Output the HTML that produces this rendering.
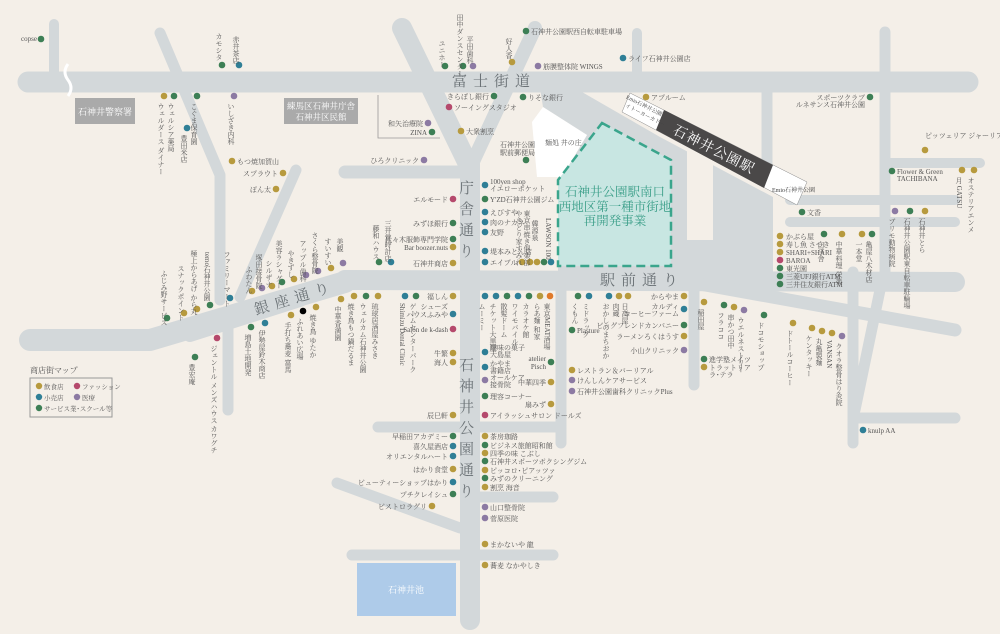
<!DOCTYPE html>
<html><head><meta charset="utf-8">
<style>
html,body{margin:0;padding:0;background:#f4efe8;}
svg{display:block;font-family:"Liberation Serif","Noto Serif CJK SC","Noto Sans CJK JP",serif;}
.l{font-size:7px;fill:#555;}
.v{font-size:7px;fill:#555;writing-mode:vertical-rl;}
.rd{font-size:15px;fill:#6b7276;letter-spacing:6px;}
.rv{font-size:15px;fill:#6b7276;writing-mode:vertical-rl;letter-spacing:6px;}
</style></head><body>
<svg width="1000" height="634" viewBox="0 0 1000 634" xmlns="http://www.w3.org/2000/svg">
<rect width="1000" height="634" fill="#f4efe8"/>
<polygon points="540,88 575,88 660,137 773,197 773,290 558,290 558,180 587,135 543,107" fill="#d3d8da"/>
<g stroke="#d3d8da" stroke-linecap="round" fill="none">
<line x1="28" y1="82" x2="968" y2="82" stroke-width="21"/>
<line x1="54" y1="24" x2="54" y2="82" stroke-width="10"/>
<polyline points="160,33 220,175 220,300" stroke-width="11" stroke-linejoin="round"/>
<line x1="296" y1="170" x2="240" y2="297" stroke-width="11"/>
<line x1="402" y1="28" x2="470" y2="168" stroke-width="20"/>
<line x1="535" y1="28" x2="470" y2="168" stroke-width="14"/>
<line x1="345" y1="172" x2="470" y2="172" stroke-width="13"/>
<line x1="470" y1="160" x2="470" y2="620" stroke-width="20"/>
<line x1="345" y1="280" x2="955" y2="282" stroke-width="20"/>
<line x1="885" y1="32" x2="885" y2="285" stroke-width="11"/>
<line x1="767" y1="92" x2="767" y2="172" stroke-width="11"/>
<line x1="637" y1="33" x2="637" y2="82" stroke-width="10"/>
<line x1="887" y1="163" x2="980" y2="163" stroke-width="10"/>
<line x1="790" y1="200" x2="955" y2="200" stroke-width="10"/>
<line x1="790" y1="222" x2="955" y2="222" stroke-width="10"/>
<polyline points="30,340 150,340 345,282" stroke-width="22" stroke-linejoin="round"/>
<line x1="190" y1="335" x2="300" y2="300" stroke-width="14"/>
<line x1="228" y1="320" x2="228" y2="410" stroke-width="11"/>
<line x1="561" y1="280" x2="561" y2="443" stroke-width="11"/>
<line x1="694" y1="280" x2="694" y2="385" stroke-width="11"/>
<line x1="650" y1="275" x2="955" y2="330" stroke-width="13"/>
<line x1="853" y1="272" x2="853" y2="443" stroke-width="11"/>
<line x1="880" y1="290" x2="855" y2="410" stroke-width="11"/>
<line x1="853" y1="418" x2="955" y2="418" stroke-width="11"/>
<line x1="378" y1="427" x2="561" y2="427" stroke-width="11"/>
<line x1="470" y1="497" x2="553" y2="497" stroke-width="11"/>
<line x1="352" y1="555" x2="553" y2="555" stroke-width="11"/>
<line x1="337" y1="483" x2="460" y2="528" stroke-width="11"/>
</g>
<rect x="687" y="150" width="26" height="90" fill="#f4efe8"/>
<path d="M68,64 q-6,8 0,16 q6,8 0,16" stroke="#fff" stroke-width="3" fill="none"/>
<rect x="357" y="563" width="99" height="53" fill="#aecbe9"/>
<text x="406" y="593" font-size="9" fill="#fff" text-anchor="middle">石神井池</text>
<rect x="75" y="98" width="60" height="26" fill="#aaa"/>
<text x="105" y="115" font-size="9" fill="#fff" text-anchor="middle">石神井警察署</text>
<rect x="284" y="98" width="74" height="26" fill="#aaa"/>
<text x="321" y="109" font-size="8.5" fill="#fff" text-anchor="middle">練馬区石神井庁舎</text>
<text x="321" y="120" font-size="8.5" fill="#fff" text-anchor="middle">石神井区民館</text>
<polyline points="378,95 378,138 440,138" stroke="#999" stroke-width="0.8" fill="none"/>
<polygon points="543,107 587,135 562,177 537,177 532,122" fill="#fff"/>
<text x="545" y="145" class="l">麺処 井の庄</text>
<polygon points="602,123 671,160 671,266 558,266 558,180" fill="#c8e6e2" stroke="#3aa58c" stroke-width="2.5" stroke-dasharray="9,5"/>
<g font-size="12.5" fill="#3a9e88" text-anchor="middle">
<text x="615" y="196">石神井公園駅南口</text>
<text x="615" y="211">西地区第一種市街地</text>
<text x="615" y="225">再開発事業</text></g>
<polygon points="630,93 807,182 797,205 622,112" fill="#fff" stroke="#888" stroke-width="0.5"/>
<polygon points="664,110 773,165 764,188 656,130" fill="#4a4848"/>
<text x="714" y="154" font-size="14" fill="#fff" text-anchor="middle" transform="rotate(27 714 149)" letter-spacing="1">石神井公園駅</text>
<text x="622" y="106" font-size="5.5" fill="#444" transform="rotate(27 640 110)">Emio石神井公園</text>
<text x="625" y="114" font-size="5.5" fill="#444" transform="rotate(27 640 110)">イトーヨーカドー</text>
<text x="772" y="192" font-size="6" fill="#444">Emio石神井公園</text>
<text x="452" y="86" class="rd">富士街道</text>
<text x="600" y="285" class="rd">駅前通り</text>
<text x="465" y="180" class="rv">庁舎通り</text>
<text x="465" y="357" class="rv">石神井公園通り</text>
<text x="256" y="315" class="rd" transform="rotate(-17 256 315)">銀座通り</text>
<text x="30" y="373" font-size="8" fill="#555">商店街マップ</text>
<rect x="30" y="378" width="82" height="39" fill="none" stroke="#999" stroke-width="1"/>
<g font-size="6.5" fill="#555">
<circle cx="39" cy="386" r="3.2" fill="#b79a3e"/><text x="44" y="389">飲食店</text>
<circle cx="77" cy="386" r="3.2" fill="#b5496c"/><text x="82" y="389">ファッション</text>
<circle cx="39" cy="397" r="3.2" fill="#2f7f96"/><text x="44" y="400">小売店</text>
<circle cx="77" cy="397" r="3.2" fill="#8c7aa3"/><text x="82" y="400">医療</text>
<circle cx="39" cy="408" r="3.2" fill="#3d7f55"/><text x="44" y="411">サービス業･スクール等</text>
</g>
<g>
<circle cx="41" cy="39" r="3.3" fill="#3d7f55"/><text x="21" y="41" class="l">copse</text>
<circle cx="222" cy="65" r="3.3" fill="#3d7f55"/><text x="219" y="33" class="v">カモシタ</text>
<circle cx="239" cy="65" r="3.3" fill="#2f7f96"/><text x="236" y="36" class="v">赤井茶店</text>
<circle cx="164" cy="96" r="3.3" fill="#b79a3e"/><text x="161" y="103" class="v">ウェルダース ダイナー</text>
<circle cx="174" cy="96" r="3.3" fill="#3d7f55"/><text x="171" y="103" class="v">ウェルシア薬局</text>
<circle cx="197" cy="96" r="3.3" fill="#3d7f55"/><text x="194" y="103" class="v">こぐま保育園</text>
<circle cx="187" cy="128" r="3.3" fill="#2f7f96"/><text x="184" y="135" class="v">豊田米店</text>
<circle cx="234" cy="96" r="3.3" fill="#8c7aa3"/><text x="231" y="103" class="v">いしざき内科</text>
<circle cx="232" cy="161" r="3.3" fill="#b79a3e"/><text x="237" y="164" class="l">もつ焼加賀山</text>
<circle cx="283" cy="173" r="3.3" fill="#b79a3e"/><text x="278" y="176" class="l" text-anchor="end">スプラウト</text>
<circle cx="276" cy="189" r="3.3" fill="#b79a3e"/><text x="271" y="192" class="l" text-anchor="end">ぽん太</text>
<circle cx="445" cy="66" r="3.3" fill="#3d7f55"/><text x="442" y="40" class="v">ユニホー</text>
<circle cx="463" cy="66" r="3.3" fill="#3d7f55"/><text x="460" y="14" class="v">田中ダンスセンター</text>
<circle cx="473" cy="66" r="3.3" fill="#8c7aa3"/><text x="470" y="36" class="v">平田歯科</text>
<circle cx="512" cy="62" r="3.3" fill="#b79a3e"/><text x="509" y="38" class="v">好人香</text>
<circle cx="526" cy="31" r="3.3" fill="#3d7f55"/><text x="531" y="34" class="l">石神井公園駅西自転車駐車場</text>
<circle cx="538" cy="66" r="3.3" fill="#8c7aa3"/><text x="543" y="69" class="l">筋膜整体院 WINGS</text>
<circle cx="623" cy="58" r="3.3" fill="#2f7f96"/><text x="628" y="61" class="l">ライフ石神井公園店</text>
<circle cx="494" cy="96" r="3.3" fill="#3d7f55"/><text x="489" y="99" class="l" text-anchor="end">きらぼし銀行</text>
<circle cx="449" cy="107" r="3.3" fill="#b5496c"/><text x="454" y="110" class="l">ソーイングスタジオ</text>
<circle cx="523" cy="97" r="3.3" fill="#3d7f55"/><text x="528" y="100" class="l">りそな銀行</text>
<circle cx="646" cy="97" r="3.3" fill="#b79a3e"/><text x="651" y="100" class="l">アプルーム</text>
<circle cx="428" cy="123" r="3.3" fill="#8c7aa3"/><text x="423" y="126" class="l" text-anchor="end">和矢治療院</text>
<circle cx="432" cy="132" r="3.3" fill="#3d7f55"/><text x="427" y="135" class="l" text-anchor="end">ZINA</text>
<circle cx="461" cy="131" r="3.3" fill="#b79a3e"/><text x="466" y="134" class="l">大衆割烹</text>
<circle cx="424" cy="160" r="3.3" fill="#8c7aa3"/><text x="419" y="163" class="l" text-anchor="end">ひろクリニック</text>
<circle cx="526" cy="160" r="3.3" fill="#3d7f55"/><text x="500" y="147" class="l">石神井公園</text><text x="500" y="155" class="l">駅前郵便局</text>
<circle cx="870" cy="97" r="3.3" fill="#3d7f55"/><text x="865" y="100" class="l" text-anchor="end">スポーツクラブ</text><text x="865" y="107" class="l" text-anchor="end">ルネサンス石神井公園</text>
<circle cx="925" cy="150" r="3.3" fill="#b79a3e"/><text x="925" y="138" class="l">ピッツェリア ジャーリア</text>
<circle cx="892" cy="171" r="3.3" fill="#3d7f55"/><text x="897" y="174" class="l">Flower &amp; Green</text><text x="897" y="181" class="l">TACHIBANA</text>
<circle cx="962" cy="170" r="3.3" fill="#b79a3e"/><text x="959" y="177" class="v">月 GATSU</text>
<circle cx="974" cy="170" r="3.3" fill="#b79a3e"/><text x="971" y="177" class="v">オステリアエンメ</text>
<circle cx="802" cy="212" r="3.3" fill="#3d7f55"/><text x="807" y="215" class="l">文香</text>
<circle cx="780" cy="236" r="3.3" fill="#b79a3e"/><text x="786" y="239" class="l">かぶら屋</text>
<circle cx="780" cy="244" r="3.3" fill="#b79a3e"/><text x="786" y="247" class="l">寿し魚 さつき</text>
<circle cx="780" cy="252" r="3.3" fill="#b79a3e"/><text x="786" y="255" class="l">SHARI+SHARI</text>
<circle cx="780" cy="260" r="3.3" fill="#b5496c"/><text x="786" y="263" class="l">BAROA</text>
<circle cx="780" cy="268" r="3.3" fill="#3d7f55"/><text x="786" y="271" class="l">東光園</text>
<circle cx="780" cy="276" r="3.3" fill="#3d7f55"/><text x="786" y="279" class="l">三菱UFJ銀行ATM</text>
<circle cx="780" cy="284" r="3.3" fill="#3d7f55"/><text x="786" y="287" class="l">三井住友銀行ATM</text>
<circle cx="824" cy="234" r="3.3" fill="#3d7f55"/><text x="821" y="241" class="v">白洋舎</text>
<circle cx="842" cy="234" r="3.3" fill="#b79a3e"/><text x="839" y="241" class="v">中華料理 栄楽</text>
<circle cx="862" cy="234" r="3.3" fill="#b79a3e"/><text x="859" y="241" class="v">一本堂</text>
<circle cx="872" cy="234" r="3.3" fill="#3d7f55"/><text x="869" y="241" class="v">亀屋八木材店</text>
<circle cx="895" cy="211" r="3.3" fill="#8c7aa3"/><text x="892" y="218" class="v">ブリモ動物病院</text>
<circle cx="910" cy="211" r="3.3" fill="#3d7f55"/><text x="907" y="218" class="v">石神井公園駅東自転車駐輪場</text>
<circle cx="925" cy="211" r="3.3" fill="#b79a3e"/><text x="922" y="218" class="v">石神井とら</text>
<circle cx="485" cy="185" r="3.3" fill="#2f7f96"/><text x="490" y="184" class="l">100yen shop</text><text x="490" y="191" class="l">イエローポケット</text>
<circle cx="485" cy="199" r="3.3" fill="#3d7f55"/><text x="490" y="202" class="l">Y'ZD石神井公園ジム</text>
<circle cx="485" cy="212" r="3.3" fill="#2f7f96"/><text x="490" y="215" class="l">えびすや</text>
<circle cx="485" cy="222" r="3.3" fill="#2f7f96"/><text x="490" y="225" class="l">肉のナカネ</text>
<circle cx="485" cy="232" r="3.3" fill="#2f7f96"/><text x="490" y="235" class="l">友野</text>
<circle cx="485" cy="251" r="3.3" fill="#2f7f96"/><text x="490" y="254" class="l">堤本みとん店</text>
<circle cx="485" cy="262" r="3.3" fill="#2f7f96"/><text x="490" y="265" class="l">エイブル</text>
<circle cx="522" cy="262" r="3.3" fill="#b79a3e"/><circle cx="530" cy="262" r="3.3" fill="#b79a3e"/><circle cx="537" cy="262" r="3.3" fill="#b79a3e"/><circle cx="544" cy="262" r="3.3" fill="#3d7f55"/><circle cx="551" cy="262" r="3.3" fill="#2f7f96"/>
<text x="519" y="210" class="v">やきとり家すみれ</text><text x="527" y="210" class="v">東京串焼き倶楽部</text><text x="535" y="220" class="v">韓源泉</text><text x="548" y="218" class="v">LAWSON 100</text>
<circle cx="453" cy="199" r="3.3" fill="#b5496c"/><text x="448" y="202" class="l" text-anchor="end">エルモード</text>
<circle cx="453" cy="223" r="3.3" fill="#3d7f55"/><text x="448" y="226" class="l" text-anchor="end">みずほ銀行</text>
<circle cx="453" cy="239" r="3.3" fill="#3d7f55"/><text x="448" y="242" class="l" text-anchor="end">代々木服飾専門学院</text>
<circle cx="453" cy="247" r="3.3" fill="#b79a3e"/><text x="448" y="250" class="l" text-anchor="end">Bar boozer.nuts</text>
<circle cx="453" cy="263" r="3.3" fill="#b79a3e"/><text x="448" y="266" class="l" text-anchor="end">石神井商店</text>
<circle cx="379" cy="262" r="3.3" fill="#3d7f55"/><text x="376" y="225" class="v">藤和ハウス</text>
<circle cx="391" cy="262" r="3.3" fill="#2f7f96"/><text x="388" y="220" class="v">三井堂時計店</text>
<circle cx="343" cy="263" r="3.3" fill="#8c7aa3"/><text x="340" y="238" class="v">美観</text>
<circle cx="331" cy="268" r="3.3" fill="#b79a3e"/><text x="328" y="238" class="v">すいすい</text>
<circle cx="318" cy="271" r="3.3" fill="#8c7aa3"/><text x="315" y="232" class="v">さくら整骨院</text>
<circle cx="306" cy="275" r="3.3" fill="#8c7aa3"/><text x="303" y="240" class="v">アップル歯科</text>
<circle cx="294" cy="279" r="3.3" fill="#b79a3e"/><text x="291" y="250" class="v">やきずし</text>
<circle cx="282" cy="282" r="3.3" fill="#3d7f55"/><text x="279" y="240" class="v">美容ラシャグー</text>
<circle cx="272" cy="286" r="3.3" fill="#b79a3e"/><text x="269" y="260" class="v">シルザナ</text>
<circle cx="262" cy="288" r="3.3" fill="#8c7aa3"/><text x="259" y="254" class="v">塚田接骨院</text>
<circle cx="252" cy="291" r="3.3" fill="#b79a3e"/><text x="249" y="266" class="v">ふわたん</text>
<circle cx="230" cy="298" r="3.3" fill="#2f7f96"/><text x="227" y="251" class="v">ファミリーマート</text>
<circle cx="210" cy="305" r="3.3" fill="#3d7f55"/><text x="207" y="252" class="v">temo石神井公園</text>
<circle cx="197" cy="309" r="3.3" fill="#b79a3e"/><text x="194" y="250" class="v">極上からあげ から丸</text>
<circle cx="184" cy="313" r="3.3" fill="#b79a3e"/><text x="181" y="265" class="v">スナックポイント</text>
<circle cx="167" cy="318" r="3.3" fill="#3d7f55"/><text x="164" y="270" class="v">ふじみ野サービス</text>
<circle cx="217" cy="338" r="3.3" fill="#b5496c"/><text x="214" y="345" class="v">ジェントル メンズハウス カワグチ</text>
<circle cx="195" cy="357" r="3.3" fill="#3d7f55"/><text x="192" y="364" class="v">豊宏庵</text>
<circle cx="251" cy="327" r="3.3" fill="#3d7f55"/><text x="248" y="334" class="v">増島土地開発</text>
<circle cx="265" cy="323" r="3.3" fill="#2f7f96"/><text x="262" y="330" class="v">伊勢屋鈴木商店</text>
<circle cx="291" cy="315" r="3.3" fill="#b79a3e"/><text x="288" y="322" class="v">手打ち蕎麦 富馬</text>
<circle cx="303" cy="311" r="3.3" fill="#000"/><text x="300" y="318" class="v">ふれあい広場</text>
<circle cx="316" cy="307" r="3.3" fill="#b79a3e"/><text x="313" y="314" class="v">焼き鳥 ゆたか</text>
<circle cx="341" cy="299" r="3.3" fill="#b79a3e"/><text x="338" y="306" class="v">中華香満園</text>
<circle cx="354" cy="296" r="3.3" fill="#b79a3e"/><text x="351" y="303" class="v">焼き鳥もつ鍋だるま</text>
<circle cx="366" cy="296" r="3.3" fill="#3d7f55"/><text x="363" y="303" class="v">ウェルカム石神井公園</text>
<circle cx="378" cy="296" r="3.3" fill="#b79a3e"/><text x="375" y="303" class="v">琉球居酒屋みさき</text>
<circle cx="405" cy="296" r="3.3" fill="#2f7f96"/><text x="402" y="303" class="v">Shimizu Dental Clinic</text>
<circle cx="416" cy="296" r="3.3" fill="#3d7f55"/><text x="413" y="303" class="v">ゲームセンターパーク</text>
<circle cx="453" cy="296" r="3.3" fill="#b79a3e"/><text x="448" y="299" class="l" text-anchor="end">福しん</text>
<circle cx="453" cy="314" r="3.3" fill="#2f7f96"/><text x="448" y="309" class="l" text-anchor="end">シューズ</text><text x="448" y="317" class="l" text-anchor="end">ハウスふみや</text>
<circle cx="453" cy="329" r="3.3" fill="#b5496c"/><text x="448" y="332" class="l" text-anchor="end">Salon de k-dash</text>
<circle cx="453" cy="353" r="3.3" fill="#b79a3e"/><text x="448" y="356" class="l" text-anchor="end">牛繁</text>
<circle cx="453" cy="362" r="3.3" fill="#b79a3e"/><text x="448" y="365" class="l" text-anchor="end">海人</text>
<circle cx="453" cy="415" r="3.3" fill="#b79a3e"/><text x="448" y="418" class="l" text-anchor="end">辰巳軒</text>
<circle cx="453" cy="436" r="3.3" fill="#3d7f55"/><text x="448" y="439" class="l" text-anchor="end">早稲田アカデミー</text>
<circle cx="453" cy="446" r="3.3" fill="#2f7f96"/><text x="448" y="449" class="l" text-anchor="end">喜久屋酒店</text>
<circle cx="453" cy="456" r="3.3" fill="#2f7f96"/><text x="448" y="459" class="l" text-anchor="end">オリエンタルハート</text>
<circle cx="453" cy="469" r="3.3" fill="#b79a3e"/><text x="448" y="472" class="l" text-anchor="end">はかり食堂</text>
<circle cx="453" cy="482" r="3.3" fill="#2f7f96"/><text x="448" y="485" class="l" text-anchor="end">ビューティーショップはかり</text>
<circle cx="453" cy="494" r="3.3" fill="#3d7f55"/><text x="448" y="497" class="l" text-anchor="end">プチクレイシュ</text>
<circle cx="432" cy="506" r="3.3" fill="#b79a3e"/><text x="427" y="509" class="l" text-anchor="end">ビストロラグリ</text>
<circle cx="485" cy="296" r="3.3" fill="#2f7f96"/><text x="482" y="303" class="v">ムーミー</text>
<circle cx="496" cy="296" r="3.3" fill="#2f7f96"/><text x="493" y="303" class="v">チケット大黒屋</text>
<circle cx="507" cy="296" r="3.3" fill="#3d7f55"/><text x="504" y="303" class="v">散髪ドーム</text>
<circle cx="518" cy="296" r="3.3" fill="#2f7f96"/><text x="515" y="303" class="v">ワイモバイル</text>
<circle cx="529" cy="296" r="3.3" fill="#3d7f55"/><text x="526" y="303" class="v">カラオケ館</text>
<circle cx="540" cy="296" r="3.3" fill="#b79a3e"/><text x="537" y="303" class="v">らあ麺 和家</text>
<circle cx="550" cy="296" r="3.3" fill="#e07a2a"/><text x="547" y="303" class="v">東京MEAT酒場</text>
<circle cx="485" cy="352" r="3.3" fill="#2f7f96"/><text x="490" y="350" class="l">趣味の菓子</text><text x="490" y="357" class="l">大島屋</text>
<circle cx="485" cy="367" r="3.3" fill="#2f7f96"/><text x="490" y="366" class="l">かやま</text><text x="490" y="373" class="l">書籍店</text>
<circle cx="485" cy="380" r="3.3" fill="#8c7aa3"/><text x="490" y="380" class="l">オールケア</text><text x="490" y="387" class="l">接骨院</text>
<circle cx="485" cy="396" r="3.3" fill="#3d7f55"/><text x="490" y="399" class="l">理容コーナー</text>
<circle cx="485" cy="415" r="3.3" fill="#b5496c"/><text x="490" y="418" class="l">アイラッシュサロン ドールズ</text>
<circle cx="551" cy="362" r="3.3" fill="#3d7f55"/><text x="546" y="361" class="l" text-anchor="end">atelier</text><text x="546" y="369" class="l" text-anchor="end">Pisch</text>
<circle cx="551" cy="382" r="3.3" fill="#b79a3e"/><text x="546" y="385" class="l" text-anchor="end">中華四季</text>
<circle cx="551" cy="404" r="3.3" fill="#b79a3e"/><text x="546" y="407" class="l" text-anchor="end">扇みず</text>
<circle cx="485" cy="436" r="3.3" fill="#b79a3e"/><text x="490" y="439" class="l">茶房珈路</text>
<circle cx="485" cy="445" r="3.3" fill="#3d7f55"/><text x="490" y="448" class="l">ビジネス旅館昭和館</text>
<circle cx="485" cy="453" r="3.3" fill="#b79a3e"/><text x="490" y="456" class="l">四季の味 こぶし</text>
<circle cx="485" cy="461" r="3.3" fill="#3d7f55"/><text x="490" y="464" class="l">石神井スポーツボクシングジム</text>
<circle cx="485" cy="470" r="3.3" fill="#b79a3e"/><text x="490" y="473" class="l">ピッコロ･ピアッツァ</text>
<circle cx="485" cy="478" r="3.3" fill="#3d7f55"/><text x="490" y="481" class="l">みずのクリーニング</text>
<circle cx="485" cy="487" r="3.3" fill="#b79a3e"/><text x="490" y="490" class="l">割烹 海音</text>
<circle cx="485" cy="507" r="3.3" fill="#8c7aa3"/><text x="490" y="510" class="l">山口整骨院</text>
<circle cx="485" cy="518" r="3.3" fill="#8c7aa3"/><text x="490" y="521" class="l">菅原医院</text>
<circle cx="485" cy="544" r="3.3" fill="#b79a3e"/><text x="490" y="547" class="l">まかないや 龍</text>
<circle cx="485" cy="565" r="3.3" fill="#b79a3e"/><text x="490" y="568" class="l">蕎麦 なかやしき</text>
<circle cx="578" cy="296" r="3.3" fill="#3d7f55"/><text x="575" y="303" class="v">くもん</text>
<circle cx="589" cy="296" r="3.3" fill="#2f7f96"/><text x="586" y="303" class="v">ミドラッグ</text>
<circle cx="609" cy="296" r="3.3" fill="#2f7f96"/><text x="606" y="303" class="v">おかしのまちおか</text>
<circle cx="619" cy="296" r="3.3" fill="#b79a3e"/><text x="616" y="303" class="v">肉蔵</text>
<circle cx="628" cy="296" r="3.3" fill="#b79a3e"/><text x="625" y="303" class="v">日高屋</text>
<circle cx="572" cy="330" r="3.3" fill="#3d7f55"/><text x="577" y="333" class="l">Plasture</text>
<circle cx="684" cy="296" r="3.3" fill="#b79a3e"/><text x="679" y="299" class="l" text-anchor="end">からやま</text>
<circle cx="684" cy="309" r="3.3" fill="#2f7f96"/><text x="679" y="309" class="l" text-anchor="end">カルディ</text><text x="679" y="316" class="l" text-anchor="end">コーヒーファーム</text>
<circle cx="684" cy="325" r="3.3" fill="#3d7f55"/><text x="679" y="328" class="l" text-anchor="end">ビッグフレンドカンパニー</text>
<circle cx="684" cy="336" r="3.3" fill="#b79a3e"/><text x="679" y="339" class="l" text-anchor="end">ラーメンろくはうす</text>
<circle cx="684" cy="350" r="3.3" fill="#8c7aa3"/><text x="679" y="353" class="l" text-anchor="end">小山クリニック</text>
<circle cx="572" cy="370" r="3.3" fill="#b79a3e"/><text x="577" y="373" class="l">レストラン＆バーリアル</text>
<circle cx="572" cy="380" r="3.3" fill="#8c7aa3"/><text x="577" y="383" class="l">けんしんケアサービス</text>
<circle cx="572" cy="391" r="3.3" fill="#8c7aa3"/><text x="577" y="394" class="l">石神井公園歯科クリニックPlus</text>
<circle cx="704" cy="302" r="3.3" fill="#b79a3e"/><text x="701" y="309" class="v">稲田屋</text>
<circle cx="724" cy="305" r="3.3" fill="#3d7f55"/><text x="721" y="312" class="v">フラココ</text>
<circle cx="734" cy="307" r="3.3" fill="#b79a3e"/><text x="731" y="314" class="v">串かつ田中</text>
<circle cx="744" cy="310" r="3.3" fill="#8c7aa3"/><text x="741" y="317" class="v">ウエルネストリー</text>
<circle cx="764" cy="315" r="3.3" fill="#3d7f55"/><text x="761" y="322" class="v">ドコモショップ</text>
<circle cx="793" cy="323" r="3.3" fill="#b79a3e"/><text x="790" y="330" class="v">ドトールコーヒー</text>
<circle cx="812" cy="328" r="3.3" fill="#b79a3e"/><text x="809" y="335" class="v">ケンタッキー</text>
<circle cx="822" cy="331" r="3.3" fill="#b79a3e"/><text x="819" y="338" class="v">丸亀製麺</text>
<circle cx="832" cy="333" r="3.3" fill="#b79a3e"/><text x="829" y="340" class="v">VANSAN</text>
<circle cx="842" cy="336" r="3.3" fill="#8c7aa3"/><text x="839" y="343" class="v">クオラ整骨はり灸院</text>
<circle cx="704" cy="359" r="3.3" fill="#3d7f55"/><text x="709" y="362" class="l">進学塾メイツ</text>
<circle cx="704" cy="367" r="3.3" fill="#b79a3e"/><text x="709" y="370" class="l">トラットリア</text><text x="709" y="377" class="l">ラ･テラ</text>
<circle cx="863" cy="430" r="3.3" fill="#2f7f96"/><text x="868" y="433" class="l">knulp AA</text>
</g>
</svg>
</body></html>
